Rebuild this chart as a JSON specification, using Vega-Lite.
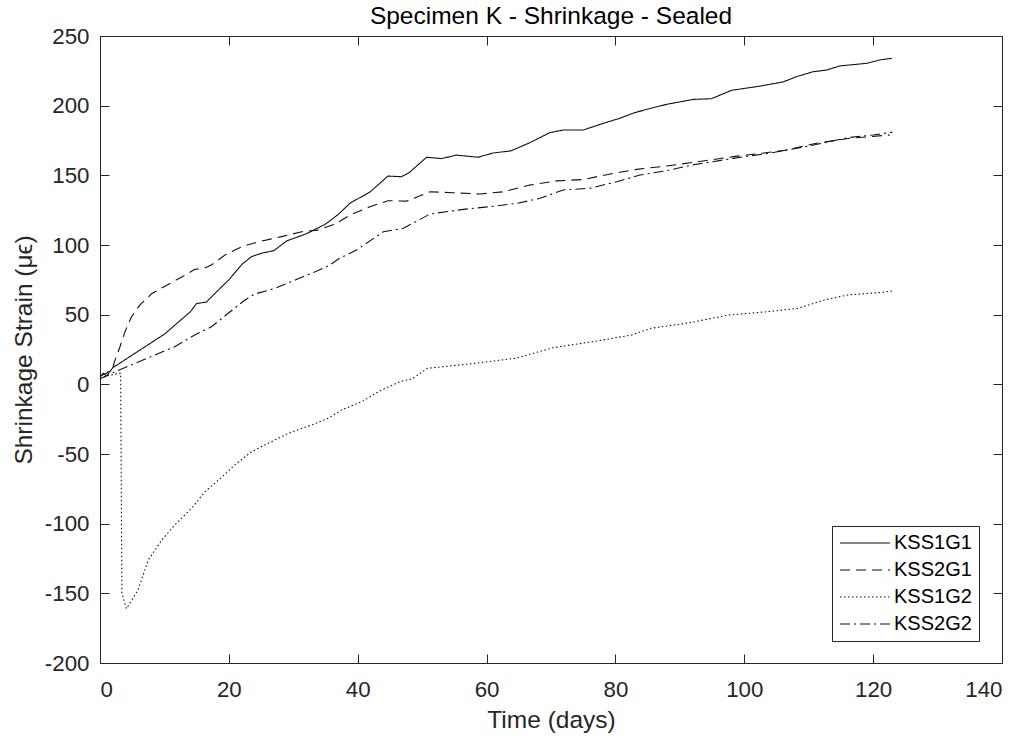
{
  "$schema": "https://vega.github.io/schema/vega-lite/v6.json",
  "width": 902,
  "height": 627,
  "autosize": {"type": "none"},
  "padding": {"left": 100, "top": 36, "right": 23, "bottom": 77},
  "background": "white",
  "config": {
    "font": "Liberation Sans",
    "view": {"stroke": "#262626", "strokeWidth": 1},
    "axis": {"grid": false, "domain": false, "tickColor": "#262626", "labelColor": "#262626", "titleColor": "#262626", "labelFontSize": 22.3, "titleFontSize": 24.5, "titleFontWeight": "normal", "labelFont": "Liberation Sans", "titleFont": "Liberation Sans"}
  },
  "title": {"text": "Specimen K - Shrinkage - Sealed", "fontSize": 24.5, "fontWeight": "normal", "color": "#000000", "font": "Liberation Sans", "offset": -4},
  "data": {"values": [
    {"t":0,"v":5,"s":"KSS1G1"},{"t":0.5,"v":8,"s":"KSS1G1"},{"t":1,"v":6,"s":"KSS1G1"},{"t":2,"v":12,"s":"KSS1G1"},{"t":3,"v":15,"s":"KSS1G1"},{"t":5,"v":21,"s":"KSS1G1"},{"t":7,"v":27,"s":"KSS1G1"},{"t":10,"v":36,"s":"KSS1G1"},{"t":12,"v":44,"s":"KSS1G1"},{"t":14,"v":52,"s":"KSS1G1"},{"t":15,"v":58,"s":"KSS1G1"},{"t":16.5,"v":59,"s":"KSS1G1"},{"t":18,"v":66,"s":"KSS1G1"},{"t":20,"v":75,"s":"KSS1G1"},{"t":22,"v":86,"s":"KSS1G1"},{"t":23.5,"v":91.6,"s":"KSS1G1"},{"t":25,"v":94,"s":"KSS1G1"},{"t":27,"v":96,"s":"KSS1G1"},{"t":29,"v":103,"s":"KSS1G1"},{"t":32,"v":108,"s":"KSS1G1"},{"t":35,"v":115,"s":"KSS1G1"},{"t":37,"v":122,"s":"KSS1G1"},{"t":38.8,"v":130,"s":"KSS1G1"},{"t":41.9,"v":138,"s":"KSS1G1"},{"t":44.7,"v":149.5,"s":"KSS1G1"},{"t":46.8,"v":149,"s":"KSS1G1"},{"t":48,"v":152,"s":"KSS1G1"},{"t":50.7,"v":163,"s":"KSS1G1"},{"t":53,"v":162,"s":"KSS1G1"},{"t":55.3,"v":164.5,"s":"KSS1G1"},{"t":58.7,"v":163,"s":"KSS1G1"},{"t":61,"v":166,"s":"KSS1G1"},{"t":63.8,"v":167.6,"s":"KSS1G1"},{"t":66.7,"v":173.4,"s":"KSS1G1"},{"t":69.8,"v":180.6,"s":"KSS1G1"},{"t":71.9,"v":182.5,"s":"KSS1G1"},{"t":75,"v":182.5,"s":"KSS1G1"},{"t":78.1,"v":187.3,"s":"KSS1G1"},{"t":80.7,"v":191,"s":"KSS1G1"},{"t":83,"v":195,"s":"KSS1G1"},{"t":85.4,"v":198,"s":"KSS1G1"},{"t":88,"v":201,"s":"KSS1G1"},{"t":92.1,"v":204.5,"s":"KSS1G1"},{"t":94.9,"v":205,"s":"KSS1G1"},{"t":98,"v":211,"s":"KSS1G1"},{"t":102.4,"v":214,"s":"KSS1G1"},{"t":106,"v":217,"s":"KSS1G1"},{"t":108.1,"v":220.8,"s":"KSS1G1"},{"t":110.7,"v":224.4,"s":"KSS1G1"},{"t":112.8,"v":225.6,"s":"KSS1G1"},{"t":114.8,"v":228.5,"s":"KSS1G1"},{"t":119,"v":230.4,"s":"KSS1G1"},{"t":121,"v":232.8,"s":"KSS1G1"},{"t":122.9,"v":234,"s":"KSS1G1"},
    {"t":0,"v":6,"s":"KSS2G1"},{"t":1,"v":8,"s":"KSS2G1"},{"t":2,"v":12,"s":"KSS2G1"},{"t":2.3,"v":17,"s":"KSS2G1"},{"t":3.1,"v":27,"s":"KSS2G1"},{"t":3.9,"v":38,"s":"KSS2G1"},{"t":4.9,"v":48.5,"s":"KSS2G1"},{"t":6.2,"v":57,"s":"KSS2G1"},{"t":8,"v":65,"s":"KSS2G1"},{"t":10.3,"v":71,"s":"KSS2G1"},{"t":12.7,"v":77,"s":"KSS2G1"},{"t":14.7,"v":82.5,"s":"KSS2G1"},{"t":16,"v":83,"s":"KSS2G1"},{"t":17.3,"v":85.6,"s":"KSS2G1"},{"t":19.4,"v":92.8,"s":"KSS2G1"},{"t":22,"v":98.8,"s":"KSS2G1"},{"t":24.6,"v":102.3,"s":"KSS2G1"},{"t":28.2,"v":106,"s":"KSS2G1"},{"t":31.3,"v":109.5,"s":"KSS2G1"},{"t":33.8,"v":110.7,"s":"KSS2G1"},{"t":36.5,"v":115,"s":"KSS2G1"},{"t":38.8,"v":121.5,"s":"KSS2G1"},{"t":41.9,"v":127.5,"s":"KSS2G1"},{"t":44.7,"v":131.8,"s":"KSS2G1"},{"t":47.6,"v":131.5,"s":"KSS2G1"},{"t":51.2,"v":138.2,"s":"KSS2G1"},{"t":54.8,"v":137.5,"s":"KSS2G1"},{"t":59,"v":136.6,"s":"KSS2G1"},{"t":62.6,"v":138.2,"s":"KSS2G1"},{"t":66.7,"v":143,"s":"KSS2G1"},{"t":70.9,"v":146,"s":"KSS2G1"},{"t":75,"v":147,"s":"KSS2G1"},{"t":79.2,"v":151,"s":"KSS2G1"},{"t":83.3,"v":154.3,"s":"KSS2G1"},{"t":87.9,"v":156.7,"s":"KSS2G1"},{"t":91.6,"v":159,"s":"KSS2G1"},{"t":98.3,"v":163.4,"s":"KSS2G1"},{"t":106,"v":167.7,"s":"KSS2G1"},{"t":111.2,"v":173,"s":"KSS2G1"},{"t":116.4,"v":176.6,"s":"KSS2G1"},{"t":122.6,"v":179,"s":"KSS2G1"},
    {"t":0,"v":4,"s":"KSS1G2"},{"t":1,"v":6,"s":"KSS1G2"},{"t":2,"v":7,"s":"KSS1G2"},{"t":3.2,"v":8,"s":"KSS1G2"},{"t":3.4,"v":-150,"s":"KSS1G2"},{"t":4.1,"v":-161,"s":"KSS1G2"},{"t":5.9,"v":-147.6,"s":"KSS1G2"},{"t":7.5,"v":-126,"s":"KSS1G2"},{"t":9.6,"v":-111.7,"s":"KSS1G2"},{"t":11.6,"v":-101,"s":"KSS1G2"},{"t":14.2,"v":-89,"s":"KSS1G2"},{"t":16.3,"v":-77,"s":"KSS1G2"},{"t":18.4,"v":-68.7,"s":"KSS1G2"},{"t":20.9,"v":-58,"s":"KSS1G2"},{"t":23.5,"v":-48.4,"s":"KSS1G2"},{"t":26.1,"v":-42.3,"s":"KSS1G2"},{"t":29.2,"v":-35.2,"s":"KSS1G2"},{"t":32.8,"v":-29.2,"s":"KSS1G2"},{"t":35.4,"v":-24.4,"s":"KSS1G2"},{"t":37.5,"v":-18.4,"s":"KSS1G2"},{"t":40.6,"v":-12.5,"s":"KSS1G2"},{"t":43.7,"v":-4.1,"s":"KSS1G2"},{"t":46.6,"v":2,"s":"KSS1G2"},{"t":48.5,"v":4,"s":"KSS1G2"},{"t":50.8,"v":11.5,"s":"KSS1G2"},{"t":57.3,"v":14.6,"s":"KSS1G2"},{"t":64.5,"v":18.7,"s":"KSS1G2"},{"t":70.5,"v":26.5,"s":"KSS1G2"},{"t":76.5,"v":30.6,"s":"KSS1G2"},{"t":82.5,"v":35.4,"s":"KSS1G2"},{"t":85.5,"v":40.2,"s":"KSS1G2"},{"t":91.5,"v":44.2,"s":"KSS1G2"},{"t":97.5,"v":49.7,"s":"KSS1G2"},{"t":103.5,"v":52.1,"s":"KSS1G2"},{"t":108.3,"v":54.5,"s":"KSS1G2"},{"t":112.4,"v":60.5,"s":"KSS1G2"},{"t":116,"v":64.1,"s":"KSS1G2"},{"t":121.4,"v":66,"s":"KSS1G2"},{"t":123.2,"v":67.2,"s":"KSS1G2"},
    {"t":0,"v":4,"s":"KSS2G2"},{"t":1,"v":6,"s":"KSS2G2"},{"t":2.3,"v":9,"s":"KSS2G2"},{"t":5.4,"v":15,"s":"KSS2G2"},{"t":8.5,"v":21,"s":"KSS2G2"},{"t":11.6,"v":27,"s":"KSS2G2"},{"t":14.7,"v":35.4,"s":"KSS2G2"},{"t":17.3,"v":41.3,"s":"KSS2G2"},{"t":19.9,"v":51,"s":"KSS2G2"},{"t":22.5,"v":60.5,"s":"KSS2G2"},{"t":24,"v":64.8,"s":"KSS2G2"},{"t":27.2,"v":68.9,"s":"KSS2G2"},{"t":30.3,"v":74.9,"s":"KSS2G2"},{"t":33.4,"v":80.8,"s":"KSS2G2"},{"t":35.7,"v":85.6,"s":"KSS2G2"},{"t":37,"v":90,"s":"KSS2G2"},{"t":39.8,"v":96.4,"s":"KSS2G2"},{"t":44,"v":109.5,"s":"KSS2G2"},{"t":47.1,"v":112,"s":"KSS2G2"},{"t":51.2,"v":122.2,"s":"KSS2G2"},{"t":56.4,"v":125.6,"s":"KSS2G2"},{"t":60.5,"v":127.5,"s":"KSS2G2"},{"t":64.7,"v":129.9,"s":"KSS2G2"},{"t":68.3,"v":133.5,"s":"KSS2G2"},{"t":71.9,"v":139.5,"s":"KSS2G2"},{"t":76,"v":140.7,"s":"KSS2G2"},{"t":80.2,"v":145.4,"s":"KSS2G2"},{"t":83.8,"v":150.2,"s":"KSS2G2"},{"t":87.9,"v":153.3,"s":"KSS2G2"},{"t":92,"v":157.5,"s":"KSS2G2"},{"t":98.3,"v":162.2,"s":"KSS2G2"},{"t":104,"v":166,"s":"KSS2G2"},{"t":110,"v":171,"s":"KSS2G2"},{"t":116,"v":177,"s":"KSS2G2"},{"t":120,"v":179,"s":"KSS2G2"},{"t":123,"v":181,"s":"KSS2G2"}
  ]},
  "layer": [
    {
      "mark": {"type": "line", "color": "#111111", "strokeWidth": 1.1},
      "encoding": {
        "x": {"field": "t", "type": "quantitative", "scale": {"domain": [0, 140], "nice": false, "zero": false},
          "axis": {"orient": "bottom", "values": [0,20,40,60,80,100,120,140], "tickSize": -9, "labelPadding": 24, "title": "Time (days)", "titlePadding": 8}},
        "y": {"field": "v", "type": "quantitative", "scale": {"domain": [-200, 250], "nice": false, "zero": false},
          "axis": {"orient": "left", "values": [-200,-150,-100,-50,0,50,100,150,200,250], "tickSize": -9, "labelPadding": 20, "labelExpr": "datum.value + ''", "title": "Shrinkage Strain (μϵ)", "titlePadding": 8}},
        "strokeDash": {"field": "s", "type": "nominal",
          "scale": {"domain": ["KSS1G1","KSS2G1","KSS1G2","KSS2G2"], "range": [[1,0],[10,6],[1.5,2.5],[10,4,2,4]]},
          "legend": {"orient": "none", "legendX": 732, "legendY": 490, "title": null, "symbolType": "stroke", "symbolSize": 2500, "symbolStrokeWidth": 1.1, "symbolStrokeColor": "#111111", "labelFontSize": 20, "labelColor": "#000000", "labelFont": "Liberation Sans", "strokeColor": "#262626", "fillColor": "white", "padding": 7, "rowPadding": 7, "labelOffset": 3, "clipHeight": 20}}
      }
    },
    {
      "mark": {"type": "line", "strokeOpacity": 0},
      "encoding": {
        "x": {"field": "t", "type": "quantitative", "axis": {"orient": "top", "values": [0,20,40,60,80,100,120,140], "tickSize": -9, "labels": false, "title": null}},
        "y": {"field": "v", "type": "quantitative", "axis": {"orient": "right", "values": [-200,-150,-100,-50,0,50,100,150,200,250], "tickSize": -9, "labels": false, "title": null}},
        "detail": {"field": "s"}
      }
    }
  ],
  "resolve": {"axis": {"x": "independent", "y": "independent"}}
}
